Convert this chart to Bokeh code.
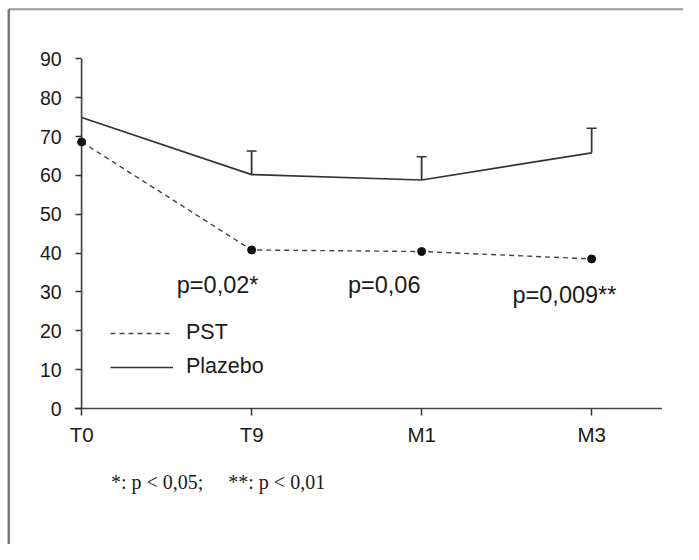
from bokeh.plotting import figure
from bokeh.models import (ColumnDataSource, Whisker, TeeHead, FixedTicker,
                          Label, Legend, LegendItem)
from bokeh.core.properties import value
from bokeh.embed import file_html
from bokeh.resources import INLINE

# ---- data ----
categories = ["T0", "T9", "M1", "M3"]
pst = [68.6, 40.8, 40.4, 38.5]
plazebo = [74.9, 60.2, 58.8, 65.8]
plazebo_sd = [6.1, 6.0, 6.3]          # upper error bars at T9, M1, M3
p_labels = ["p=0,02*", "p=0,06", "p=0,009**"]
p_label_x = [0.80, 1.78, 2.84]
p_label_y = [31.8, 31.8, 29.2]
y_ticks = [0, 10, 20, 30, 40, 50, 60, 70, 80, 90]
footnote = "*: p < 0,05;\u00a0\u00a0\u00a0\u00a0 **: p < 0,01"

x = list(range(len(categories)))
INK = "#1a1a1a"
FONT = "Liberation Sans"

# geometry: reference pixels scaled to the figure size
W, H = 683, 544
SX, SY = W / 699.0, H / 560.0
PX_PER_CAT = 174.0 * SX
X0_PX = 83.0 * SX            # screen x of T0
Y0_PX = 420.0 * SY           # screen y of value 0
PX_PER_UNIT = 4.0 * SY


def dx(px):
    return (px * SX - X0_PX) / PX_PER_CAT


def dy(py):
    return (Y0_PX - py * SY) / PX_PER_UNIT


x_range = (-X0_PX / PX_PER_CAT, (W - X0_PX) / PX_PER_CAT)
y_range = ((Y0_PX - H) / PX_PER_UNIT, Y0_PX / PX_PER_UNIT)

p = figure(width=W, height=H, x_range=x_range, y_range=y_range,
           output_backend="svg", toolbar_location=None,
           min_border_left=0, min_border_right=0, min_border_top=0, min_border_bottom=0)
p.grid.visible = False
p.outline_line_color = None
p.background_fill_color = "white"
p.border_fill_color = "white"

# axes placed at the origin
for ax in (p.xaxis, p.yaxis):
    ax.fixed_location = 0
    ax.axis_line_color = None
    ax.minor_tick_line_color = None
    ax.major_tick_in = 0
    ax.major_tick_line_color = "#333333"
    ax.major_tick_line_width = 1.5
    ax.major_label_text_font = FONT
    ax.major_label_text_color = INK

p.xaxis.ticker = FixedTicker(ticks=x)
p.xaxis.major_label_overrides = {i: c for i, c in enumerate(categories)}
p.xaxis.major_tick_out = 7
p.xaxis.major_label_standoff = 7
p.xaxis.major_label_text_font_size = "20.5px"

p.yaxis.ticker = FixedTicker(ticks=y_ticks)
p.yaxis.major_tick_out = 6
p.yaxis.major_label_standoff = 14
p.yaxis.major_label_text_font_size = "19.5px"

# axis lines
p.segment(x0=[dx(76)], y0=[0], x1=[dx(677)], y1=[0],
          line_color="#444444", line_width=1.6)
p.segment(x0=[x[0]], y0=[0], x1=[x[0]], y1=[y_ticks[-1]],
          line_color="#444444", line_width=1.7)

# series
plz_line = p.line(x, plazebo, line_color="#333333", line_width=1.7)
pst_line = p.line(x, pst, line_color="#444444", line_width=1.4, line_dash="5 4")
p.scatter(x, pst, size=8, color="#111111")

err_src = ColumnDataSource(dict(
    x=x[1:],
    lower=plazebo[1:],
    upper=[m + s for m, s in zip(plazebo[1:], plazebo_sd)],
))
p.add_layout(Whisker(base="x", lower="lower", upper="upper", source=err_src,
                     line_color="#333333", line_width=1.8,
                     upper_head=TeeHead(size=10, line_color="#333333", line_width=1.5),
                     lower_head=None))

# p-value annotations
p.text(x=p_label_x, y=p_label_y, text=p_labels,
       text_font=value(FONT), text_font_size="23.5px", text_color=INK,
       text_align="center", text_baseline="middle")

# footnote
p.add_layout(Label(x=dx(113), y=dy(496), text=footnote, text_font="Liberation Serif",
                   text_font_size="20px", text_color=INK, text_baseline="middle"))

# legend
legend = Legend(items=[LegendItem(label="PST", renderers=[pst_line]),
                       LegendItem(label="Plazebo", renderers=[plz_line])],
                location=(110, 165), border_line_color=None, background_fill_alpha=0,
                glyph_width=63, glyph_height=20, spacing=9, padding=0, margin=0,
                label_standoff=13, label_text_font=FONT, label_text_font_size="21.5px",
                label_text_color=INK)
p.add_layout(legend)

# scanned frame border (top and left)
p.segment(x0=[dx(8.5)], y0=[dy(9)], x1=[x_range[1]], y1=[dy(9)],
          line_color="#999999", line_width=2)
p.segment(x0=[dx(8.5)], y0=[dy(9)], x1=[dx(8.5)], y1=[y_range[0]],
          line_color="#777777", line_width=2.5)

open("out.html", "w").write(file_html(p, INLINE))
